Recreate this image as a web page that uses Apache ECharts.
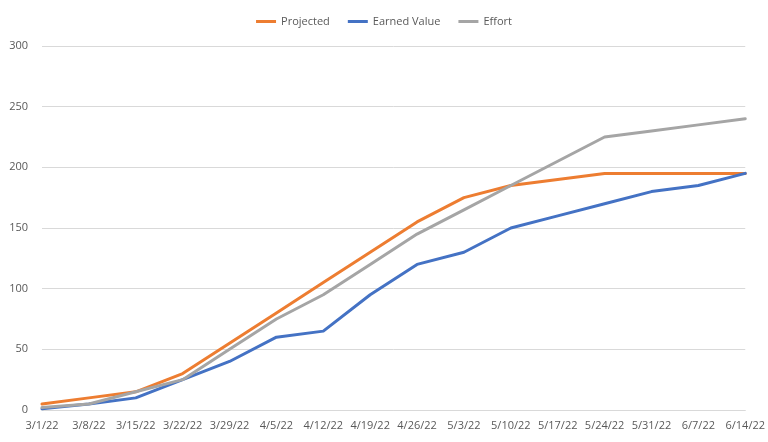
<!DOCTYPE html>
<html>
<head>
<meta charset="utf-8">
<script src="https://cdn.jsdelivr.net/npm/echarts@6/dist/echarts.min.js"></script>
<style>html,body{margin:0;padding:0;background:#fff;}#c{width:768px;height:442px;}</style>
</head>
<body>
<div id="c"></div>
<script>
var categories = ['3/1/22','3/8/22','3/15/22','3/22/22','3/29/22','4/5/22','4/12/22','4/19/22','4/26/22','5/3/22','5/10/22','5/17/22','5/24/22','5/31/22','6/7/22','6/14/22'];
var projected = [5, 10, 15, 30, 55, 80, 105, 130, 155, 175, 185, 190, 195, 195, 195, 195];
var earnedValue = [1, 5, 10, 25, 40, 60, 65, 95, 120, 130, 150, 160, 170, 180, 185, 195];
var effort = [2, 5, 15, 25, 50, 75, 95, 120, 145, 165, 185, 205, 225, 230, 235, 240];
var seriesNames = ['Projected', 'Earned Value', 'Effort'];

var chart = echarts.init(document.getElementById('c'));
var font = '"Open Sans", "Liberation Sans", sans-serif';
function line(name, data, color) {
  return {name: name, type: 'line', data: data, symbol: 'none',
    lineStyle: {width: 3, color: color, cap: 'round', join: 'round'}, itemStyle: {color: color}};
}
chart.setOption({
  animation: false,
  legend: {top: 11, left: 'center', itemWidth: 20, itemHeight: 3, itemGap: 18, icon: 'rect',
    textStyle: {fontFamily: font, fontSize: 11, color: '#595959'}, data: seriesNames},
  grid: {left: 42, right: 20, top: 46, bottom: 32, containLabel: false},
  xAxis: {type: 'category', data: categories, boundaryGap: false,
    axisLine: {lineStyle: {color: '#d9d9d9'}}, axisTick: {show: false},
    axisLabel: {fontFamily: font, fontSize: 11, color: '#595959', margin: 10, interval: 0}},
  yAxis: {type: 'value', min: 0, max: 300, interval: 50,
    axisLine: {show: false}, axisTick: {show: false},
    splitLine: {lineStyle: {color: '#d9d9d9'}},
    axisLabel: {fontFamily: font, fontSize: 11, color: '#595959', margin: 14}},
  series: [line(seriesNames[0], projected, '#ED7D31'), line(seriesNames[1], earnedValue, '#4472C4'), line(seriesNames[2], effort, '#A5A5A5')]
});
</script>
</body>
</html>
